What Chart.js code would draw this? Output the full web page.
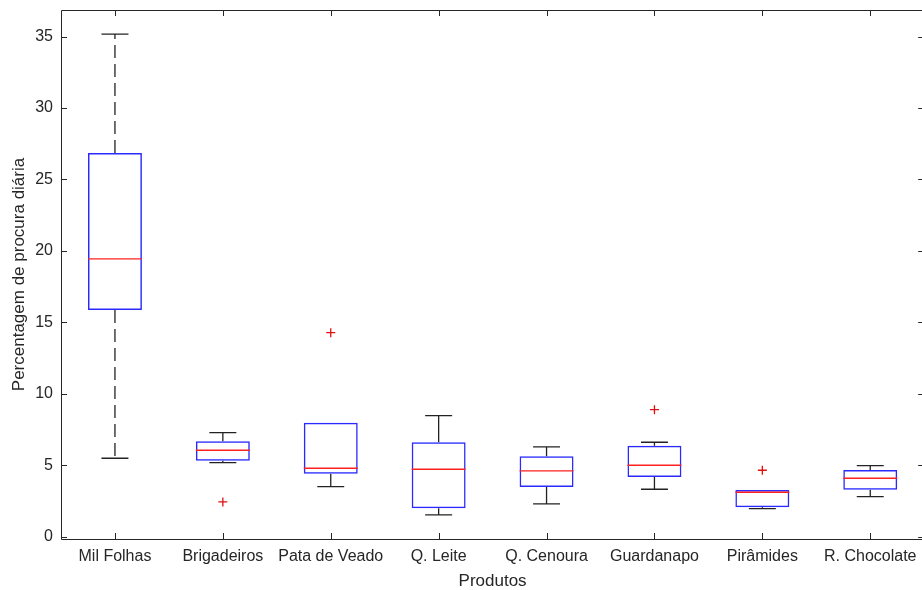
<!DOCTYPE html>
<html>
<head>
<meta charset="utf-8">
<script src="https://cdn.jsdelivr.net/npm/chart.js@4/dist/chart.umd.min.js"></script>
<style>
  html, body { margin: 0; padding: 0; background: #fff; overflow: hidden; }
  #wrap { position: relative; width: 930px; height: 590px; }
</style>
</head>
<body>
<div id="wrap"><canvas id="c"></canvas></div>
<script>
// ---- data ----
const categories   = ['Mil Folhas', 'Brigadeiros', 'Pata de Veado', 'Q. Leite', 'Q. Cenoura', 'Guardanapo', 'Pirâmides', 'R. Chocolate'];
const lowerWhisker = [5.49, 5.18, 3.50, 1.52, 2.29, 3.32, 1.96, 2.80];
const quartile1    = [15.86, 5.32, 4.41, 1.99, 3.48, 4.18, 2.06, 3.29];
const medians      = [19.45, 6.05, 4.79, 4.72, 4.60, 5.00, 3.11, 4.09];
const quartile3    = [26.85, 6.68, 7.98, 6.61, 5.63, 6.37, 3.27, 4.67];
const upperWhisker = [35.18, 7.28, 7.98, 8.47, 6.28, 6.61, 3.27, 4.97];
const outlierCategories = ['Brigadeiros', 'Pata de Veado', 'Guardanapo', 'Pirâmides'];
const outlierValues     = [2.43, 14.28, 8.89, 4.65];
const yTickValues = [0, 5, 10, 15, 20, 25, 30, 35];
const xTitle = 'Produtos';
const yTitle = 'Percentagem de procura diária';

// axis limits like MATLAB boxplot: data range padded by 5%
const allVals = lowerWhisker.concat(upperWhisker, outlierValues);
const dMin = Math.min(...allVals), dMax = Math.max(...allVals);
const yMin = dMin - 0.05 * (dMax - dMin);
const yMax = dMax + 0.05 * (dMax - dMin);

const TEXT = '#262626';
const FONT = '"Liberation Sans", Arial, sans-serif';

// whisker segments (null breaks the line)
function whiskerData(indices) {
  const out = [];
  indices.forEach(i => {
    const c = categories[i];
    out.push({x: c, y: quartile3[i]}, {x: c, y: upperWhisker[i]}, {x: c, y: null});
    out.push({x: c, y: quartile1[i]}, {x: c, y: lowerWhisker[i]}, {x: c, y: null});
  });
  return out;
}
const catW = ctx => {
  const s = ctx.chart.scales.x;
  return s ? s.width / categories.length : 108;
};
// caps: upper and lower whisker ends; a cap lying on the box edge is hidden by the box
const capData = categories.flatMap((c, i) => [
  {x: c, y: upperWhisker[i], hidden: upperWhisker[i] === quartile3[i]},
  {x: c, y: lowerWhisker[i], hidden: lowerWhisker[i] === quartile1[i]}
]);

const framePlugin = {
  id: 'frame',
  afterDatasetsDraw(chart) {
    const {ctx, chartArea: a, scales} = chart;
    ctx.save();
    ctx.strokeStyle = TEXT;
    ctx.lineWidth = 1;
    ctx.beginPath();
    ctx.rect(Math.round(a.left) + 0.5, Math.round(a.top) + 0.5, Math.round(a.right - a.left), Math.round(a.bottom - a.top));
    const tl = 6;
    scales.y.ticks.forEach((t, i) => {
      const y = Math.round(scales.y.getPixelForTick(i)) + 0.5;
      ctx.moveTo(a.left, y); ctx.lineTo(a.left + tl, y);
      ctx.moveTo(a.right, y); ctx.lineTo(a.right - tl, y);
    });
    scales.x.ticks.forEach((t, i) => {
      const x = Math.round(scales.x.getPixelForTick(i)) + 0.5;
      ctx.moveTo(x, a.bottom); ctx.lineTo(x, a.bottom - tl);
      ctx.moveTo(x, a.top); ctx.lineTo(x, a.top + tl);
    });
    ctx.stroke();
    ctx.restore();
  }
};

new Chart(document.getElementById('c'), {
  data: {
    labels: categories,
    datasets: [
      {
        type: 'line', label: 'whiskerDashed', order: 5,
        data: whiskerData([0]),
        borderColor: '#222', borderWidth: 1.3, borderDash: [13, 6],
        pointRadius: 0, spanGaps: false, fill: false
      },
      {
        type: 'line', label: 'whiskers', order: 5,
        data: whiskerData([1, 2, 3, 4, 5, 6, 7]),
        borderColor: '#222', borderWidth: 1.3,
        pointRadius: 0, spanGaps: false, fill: false
      },
      {
        type: 'scatter', label: 'caps', order: 4,
        data: capData,
        pointStyle: 'line',
        pointRadius: ctx => (ctx.raw && ctx.raw.hidden) ? 0 : catW(ctx) * 0.125,
        pointBorderColor: '#222', pointBorderWidth: 1.3, showLine: false
      },
      {
        type: 'bar', label: 'boxes', order: 2, grouped: false,
        data: categories.map((c, i) => [quartile1[i], quartile3[i]]),
        backgroundColor: 'rgba(0,0,0,0)', borderColor: '#2a2aff', borderWidth: 1.5,
        borderSkipped: false, barPercentage: 0.5, categoryPercentage: 1
      },
      {
        type: 'scatter', label: 'medians', order: 1,
        data: categories.map((c, i) => ({x: c, y: medians[i]})),
        pointStyle: 'line', pointRadius: ctx => catW(ctx) * 0.25,
        pointBorderColor: '#ff2020', pointBorderWidth: 1.3, showLine: false
      },
      {
        type: 'scatter', label: 'outliers', order: 0,
        data: outlierCategories.map((c, i) => ({x: c, y: outlierValues[i]})),
        pointStyle: 'cross', pointRadius: 4.5,
        pointBorderColor: '#e01010', pointBorderWidth: 1.3, showLine: false
      }
    ]
  },
  options: {
    responsive: true,
    maintainAspectRatio: false,
    animation: false,
    layout: { padding: { top: 10, right: 4, bottom: 0, left: 0 } },
    plugins: { legend: { display: false }, tooltip: { enabled: false } },
    scales: {
      x: {
        type: 'category', offset: true,
        grid: { display: false, drawTicks: false },
        border: { display: false },
        ticks: { color: TEXT, font: { family: FONT, size: 16 }, padding: 8, maxRotation: 0, autoSkip: false },
        title: { display: true, text: xTitle, color: TEXT, font: { family: FONT, size: 17 }, padding: { top: 0, bottom: -2 } },
        afterFit: s => { s.height = 51; s.paddingLeft = 0; s.paddingRight = 0; }
      },
      y: {
        type: 'linear', min: yMin, max: yMax,
        grid: { display: false, drawTicks: false },
        border: { display: false },
        afterBuildTicks: s => { s.ticks = yTickValues.map(v => ({value: v})); },
        ticks: { color: TEXT, font: { family: FONT, size: 16 }, padding: 8 },
        title: { display: true, text: yTitle, color: TEXT, font: { family: FONT, size: 17 }, padding: { top: 9, bottom: 0 } },
        afterFit: s => { s.width = 61; s.paddingTop = 0; s.paddingBottom = 0; }
      }
    }
  },
  plugins: [framePlugin]
});
</script>
</body>
</html>
